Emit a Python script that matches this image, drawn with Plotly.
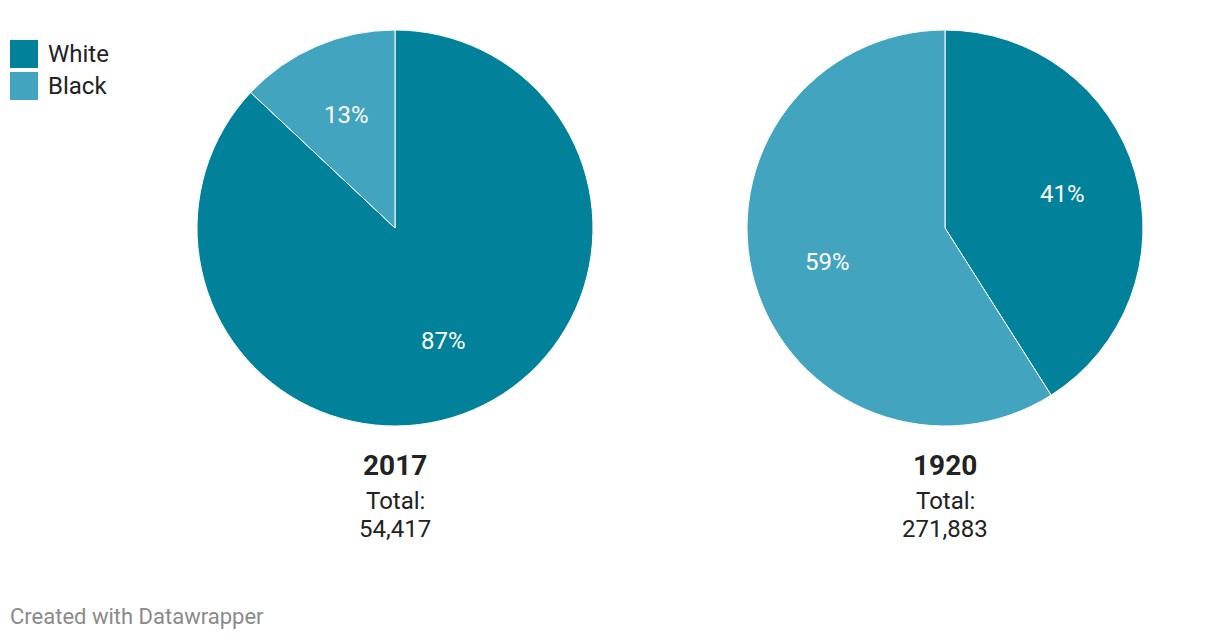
import math
import plotly.graph_objects as go

categories = ["White", "Black"]
years = ["2017", "1920"]
shares_2017 = [87, 13]
shares_1920 = [41, 59]
totals = ["54,417", "271,883"]
colors = ["#01829a", "#42a4bf"]

W, H = 1220, 640
OFF = 8  # page body margin
FONT = "Roboto"

def px_x(x):
    return (x - OFF) / W

def px_y(y):
    return 1 - (y - OFF) / H

fig = go.Figure()
pie_boxes = [(197, 593), (747, 1143)]
PIE_TOP, PIE_BOTTOM = 30, 426
annotations = []
for (x0, x1), vals, yr in zip(pie_boxes, [shares_2017, shares_1920], years):
    fig.add_trace(go.Pie(
        labels=categories, values=vals, sort=False, direction="clockwise", rotation=0,
        marker=dict(colors=colors, line=dict(color="white", width=1)),
        textinfo="none",
        domain=dict(x=[px_x(x0), px_x(x1)], y=[px_y(PIE_BOTTOM), px_y(PIE_TOP)]),
        showlegend=False, hoverinfo="label+value", name=yr,
    ))
    # percentage labels placed along each slice's mid-angle
    cx, cy = (x0 + x1) / 2, (PIE_TOP + PIE_BOTTOM) / 2
    r = (x1 - x0) / 2 * 0.62
    total = sum(vals)
    cum = 0
    for v in vals:
        mid = (cum + v / 2) / total * 2 * math.pi
        cum += v
        lx = cx + r * math.sin(mid)
        ly = cy - r * math.cos(mid)
        annotations.append(dict(x=px_x(lx), y=px_y(ly), xref="paper", yref="paper",
                                text=f"{v}%", showarrow=False,
                                font=dict(family=FONT, size=24, color="white"),
                                xanchor="center", yanchor="middle"))

for (x0, x1), yr, tot in zip(pie_boxes, years, totals):
    cx = px_x((x0 + x1) / 2)
    annotations.append(dict(x=cx, y=px_y(465), xref="paper", yref="paper", text=f"<b>{yr}</b>",
                            showarrow=False, font=dict(family=FONT, size=28, color="#222222"),
                            xanchor="center", yanchor="middle"))
    annotations.append(dict(x=cx, y=px_y(501), xref="paper", yref="paper", text="Total:",
                            showarrow=False, font=dict(family=FONT, size=24, color="#222222"),
                            xanchor="center", yanchor="middle"))
    annotations.append(dict(x=cx, y=px_y(529), xref="paper", yref="paper", text=tot,
                            showarrow=False, font=dict(family=FONT, size=24, color="#222222"),
                            xanchor="center", yanchor="middle"))

shapes = []
for i, (cat, col) in enumerate(zip(categories, colors)):
    yc = 54 + 32 * i
    shapes.append(dict(type="rect", xref="paper", yref="paper",
                       x0=px_x(10), x1=px_x(38), y0=px_y(yc + 14), y1=px_y(yc - 14),
                       fillcolor=col, line=dict(width=0)))
    annotations.append(dict(x=px_x(46), y=px_y(yc), xref="paper", yref="paper", text=cat,
                            showarrow=False, font=dict(family=FONT, size=24, color="#222222"),
                            xanchor="left", yanchor="middle"))

annotations.append(dict(x=px_x(8), y=px_y(616), xref="paper", yref="paper",
                        text="Created with Datawrapper", showarrow=False,
                        font=dict(family=FONT, size=22, color="#8a8a8a"),
                        xanchor="left", yanchor="middle"))

fig.update_layout(width=W, height=H, margin=dict(l=0, r=0, t=0, b=0),
                  paper_bgcolor="white", plot_bgcolor="white",
                  annotations=annotations, shapes=shapes, font=dict(family=FONT))
fig.write_html("out.html")
